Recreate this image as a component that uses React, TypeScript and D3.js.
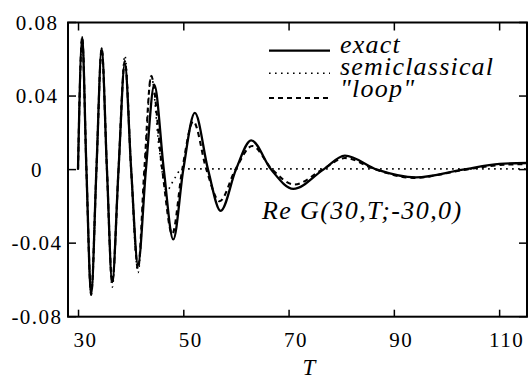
import * as d3 from "d3";

// exact curve: extremes and zero crossings
const exactT = [29.9, 30.7, 31.5, 32.4, 33.4, 34.4, 35.4, 36.4, 37.6, 38.8, 40.0, 41.3, 42.8, 44.4, 46.2, 48.0, 49.9, 52.1, 54.6, 57.0, 59.9, 62.8, 66.6, 70.8, 76.5, 80.6, 86.7, 94.1, 103.0, 110, 115.2];
const exactV = [0, 0.072, 0, -0.068, 0, 0.0658, 0, -0.0612, 0, 0.0577, 0, -0.0516, 0, 0.046, 0, -0.038, 0, 0.0308, 0, -0.0224, 0, 0.0159, 0, -0.0105, 0, 0.0076, 0, -0.0042, 0, 0.0031, 0.0036];

const semiT = [29.9, 30.7, 31.5, 32.4, 33.4, 34.4, 35.4, 36.4, 37.6, 38.8, 40.0, 41.3, 42.6, 43.8, 45.3, 46.7, 48.2, 49.6, 51, 115.2];
const semiV = [0, 0.072, 0, -0.068, 0, 0.066, 0, -0.064, 0, 0.062, 0, -0.056, 0, 0.0512, 0.012, -0.0115, -0.005, 0.0003, 0.0004, 0.0004];

const loopT = [29.9, 30.7, 31.5, 32.4, 33.4, 34.4, 35.4, 36.4, 37.6, 38.8, 40.0, 41.3, 42.5, 43.8, 45.9, 47.8, 49.7, 51.8, 54.3, 56.8, 59.8, 63.0, 66.8, 71.0, 76.3, 80.6, 86.5, 93.6, 103.5, 110, 115.2];
const loopV = [0, 0.072, 0, -0.068, 0, 0.0658, 0, -0.0615, 0, 0.059, 0, -0.054, 0, 0.0508, 0, -0.035, 0, 0.0262, 0, -0.0172, 0, 0.0128, 0, -0.0081, 0, 0.0063, 0, -0.0045, 0, 0.0025, 0.003];

const xTicks = [30, 50, 70, 90, 110];
const yTicks = [-0.08, -0.04, 0, 0.04, 0.08];
const yTickLabels = ["-0.08", "-0.04", "0", "0.04", "0.08"];
const legendNames = ["exact", "semiclassical", "\"loop\""];

const width = 529;
const height = 379;
const left = 68, right = 527, top = 22.5, bottom = 316.7;
const FONT = "'Liberation Serif', 'Times New Roman', Tinos, serif";

const x = d3.scaleLinear().domain([28, 115.2]).range([left, right]);
const y = d3.scaleLinear().domain([-0.08, 0.08]).range([bottom, top]);

const line = d3
  .line<[number, number]>()
  .x((d) => x(d[0]))
  .y((d) => y(d[1]))
  .curve(d3.curveMonotoneX);

const series = [
  { t: exactT, v: exactV, w: 2.3, dash: undefined },
  { t: semiT, v: semiV, w: 1.6, dash: "1.6,4.4" },
  { t: loopT, v: loopV, w: 2.1, dash: "5,4" },
];

const Txt = ({ px, py, s, size, italic = false, ls = 0, anchor = "middle" }: any) => (
  <text
    x={px}
    y={py}
    textAnchor={anchor}
    fontSize={size}
    fontFamily={FONT}
    fontStyle={italic ? "italic" : undefined}
    style={{ fontFamily: FONT, letterSpacing: ls }}
  >
    {s}
  </text>
);

const App = () => {
  const legY = [50.7, 73.3, 98];
  const legBase = [53.3, 75, 96.7];
  return (
    <div style={{ fontFamily: FONT }}>
      <svg
        width={width}
        height={height}
        fontFamily={FONT}
        style={{ position: "absolute", left: 0, top: 0, background: "#fff", fontFamily: FONT }}
      >
        {series.map((s, i) => (
          <path
            key={i}
            d={line(s.t.map((t, j) => [t, s.v[j]] as [number, number])) || ""}
            fill="none"
            stroke="#000"
            strokeWidth={s.w}
            strokeDasharray={s.dash}
          />
        ))}

        {/* frame */}
        <rect x={left} y={top} width={right - left} height={bottom - top} fill="none" stroke="#000" strokeWidth={2} />

        {/* inward ticks on all four sides */}
        <g stroke="#000" strokeWidth={1.5}>
          {xTicks.map((t) => (
            <g key={t}>
              <line x1={x(t)} x2={x(t)} y1={bottom} y2={bottom - 7} />
              <line x1={x(t)} x2={x(t)} y1={top} y2={top + 8} />
            </g>
          ))}
          {yTicks.map((t) => (
            <g key={t}>
              <line x1={left} x2={left + 8} y1={y(t)} y2={y(t)} />
              <line x1={right} x2={right - 8} y1={y(t)} y2={y(t)} />
            </g>
          ))}
        </g>

        {xTicks.map((t) => (
          <Txt key={t} px={x(t) + 7} py={347} s={String(t)} size={21} ls={1.5} />
        ))}
        {yTicks.map((t, i) => (
          <Txt key={t} px={37} py={y(t) + 7} s={yTickLabels[i]} size={21} ls={1.5} />
        ))}
        <Txt px={309} py={375} s="T" size={23} italic />
        <Txt px={262} py={219.3} s="Re G(30,T;-30,0)" size={26} italic ls={1.4} anchor="start" />

        {/* legend */}
        {series.map((s, i) => (
          <g key={i}>
            <line x1={269} x2={330} y1={legY[i]} y2={legY[i]} stroke="#000" strokeWidth={s.w} strokeDasharray={s.dash} />
            <Txt px={340} py={legBase[i]} s={legendNames[i]} size={26} italic ls={1.2} anchor="start" />
          </g>
        ))}
      </svg>
    </div>
  );
};

export default App;
